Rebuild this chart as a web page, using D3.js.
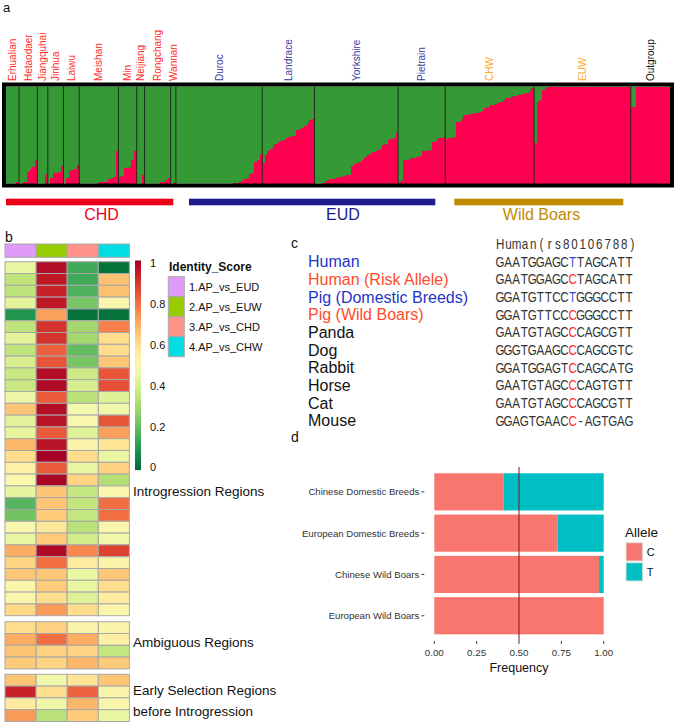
<!DOCTYPE html>
<html><head><meta charset="utf-8">
<script src="https://cdn.jsdelivr.net/npm/d3@7"></script>
<style>body{margin:0;background:#fff}svg{display:block}text{font-family:Arial,"Liberation Sans",sans-serif}</style>
</head><body><svg id="c" width="675" height="724"></svg>
<script>
// ================= DATA =================
// Panel a : structure plot (share of the red ancestry per individual)
const breeds = ["Erhualian","Hetaodaer","Jiangquhai","Jinhua","Laiwu","Meishan","Min","Neijiang","Rongchang","Wannan","Duroc","Landrace","Yorkshire","Pietrain","CHW","EUW","Outgroup"];
const breedType = ["CHD","CHD","CHD","CHD","CHD","CHD","CHD","CHD","CHD","CHD","EUD","EUD","EUD","EUD","WB","WB","OUT"];
const erhualian = [0,0,0,0,0.02];
const hetaodaer = [0,0.01,0.02,0.12,0.15,0.17,0.24];
const jiangquhai = [0,0,0,0.1];
const jinhua = [0,0.06,0.11,0.11,0.12,0.18];
const laiwu = [0,0.06,0.13,0.14,0.15,0.19];
const meishan = [0,0,0,0,0,0,0,0.01,0.02,0.02,0.02,0.05,0.06,0.07,0.34];
const minPig = [0.07,0.08,0.16,0.16,0.17,0.24,0.33];
const neijiang = [0,0,0.09];
const rongchang = [0,0,0,0,0,0,0.02,0.02,0.04,0.06];
const wannan = [0,0.01];
const duroc = [0,0,0,0,0,0,0,0,0,0,0,0,0,0,0,0,0,0,0,0,0,0,0.01,0.01,0.02,0.03,0.05,0.06,0.1,0.11,0.22,0.24,0.3];
const landrace = [0.21,0.29,0.33,0.36,0.4,0.41,0.43,0.44,0.45,0.47,0.48,0.49,0.49,0.55,0.56,0.57,0.59,0.62,0.65,0.66];
const yorkshire = [0,0,0,0.01,0.03,0.04,0.05,0.05,0.06,0.07,0.07,0.08,0.09,0.09,0.18,0.2,0.21,0.22,0.24,0.27,0.29,0.3,0.32,0.33,0.35,0.36,0.4,0.41,0.45,0.46,0.47,0.52];
const pietrain = [0.02,0.04,0.24,0.24,0.25,0.26,0.26,0.27,0.28,0.33,0.33,0.34,0.35,0.43,0.44,0.47,0.47,0.48];
const chw = [0.46,0.47,0.47,0.48,0.63,0.63,0.66,0.71,0.71,0.72,0.72,0.73,0.73,0.74,0.75,0.78,0.79,0.81,0.81,0.82,0.83,0.84,0.86,0.88,0.88,0.89,0.9,0.9,0.91,0.92,0.92,0.93,0.95,0.98];
const euw = [0.42,0.84,0.86,0.96,0.98,1,1,1,1,1,1,1,1,1,1,1,1,1,1,1,1,1,1,1,1,1,1,1,1,1,1,1,1,1,1,1,1];
const outgroup = [0.79,0.79,1,1,1,1,1,1,1,1,1,1,1,1,1];
const redShare = [erhualian,hetaodaer,jiangquhai,jinhua,laiwu,meishan,minPig,neijiang,rongchang,wannan,duroc,landrace,yorkshire,pietrain,chw,euw,outgroup];
const superGroups = ["CHD","EUD","Wild Boars"];

// Panel b : identity score heatmap
const comparisons = ["1.AP_vs_EUD","2.AP_vs_EUW","3.AP_vs_CHD","4.AP_vs_CHW"];
const introgression = [
 [0.45,0.97,0.15,0.02],[0.35,0.95,0.15,0.66],[0.35,0.93,0.17,0.66],[0.43,0.95,0.23,0.5],
 [0.1,0.72,0.02,0.02],[0.35,0.9,0.3,0.77],[0.43,0.9,0.3,0.6],[0.35,0.82,0.2,0.6],
 [0.4,0.84,0.23,0.65],[0.37,0.97,0.38,0.84],[0.37,0.98,0.4,0.85],[0.46,0.83,0.34,0.42],
 [0.65,0.97,0.48,0.46],[0.43,0.96,0.5,0.84],[0.44,0.83,0.42,0.72],[0.68,0.96,0.52,0.58],
 [0.6,1.0,0.6,0.45],[0.54,0.83,0.45,0.63],[0.5,0.99,0.62,0.33],[0.44,0.65,0.36,0.5],
 [0.18,0.65,0.36,0.8],[0.22,0.64,0.36,0.8],[0.5,0.57,0.34,0.52],[0.45,0.64,0.39,0.47],
 [0.7,0.98,0.76,0.87],[0.62,0.8,0.56,0.52],[0.65,0.65,0.45,0.65],[0.52,0.64,0.45,0.6],
 [0.51,0.6,0.42,0.56],[0.61,0.73,0.6,0.52]
];
const ambiguous = [[0.6,0.63,0.52,0.52],[0.7,0.8,0.7,0.55],[0.65,0.63,0.62,0.36],[0.64,0.62,0.68,0.64]];
const earlySelection = [[0.65,0.47,0.58,0.65],[0.93,0.6,0.82,0.52],[0.56,0.46,0.68,0.52],[0.73,0.34,0.64,0.45]];
const scoreTicks = [0,0.2,0.4,0.6,0.8,1];

// Panel c : alignment
const seqTitle = "Human(rs80106788)";
const species = ["Human","Human (Risk Allele)","Pig (Domestic Breeds)","Pig (Wild Boars)","Panda","Dog","Rabbit","Horse","Cat","Mouse"];
const speciesKind = ["ref","risk","ref","risk","other","other","other","other","other","other"];
const sequences = ["GAATGGAGCTTAGCATT","GAATGGAGCCTAGCATT","GGATGTTCCTGGGCCTT","GGATGTTCCCGGGCCTT","GAATGTAGCCCAGCGTT","GGGTGAAGCCCAGCGTC","GGATGGAGTCCAGCATG","GAATGTAGCCCAGTGTT","GAATGTAGCCCAGCGTT","GGAGTGAACC-AGTGAG"];
const snpIndex = 9;

// Panel d : allele frequency
const populations = ["Chinese Domestic Breeds","European Domestic Breeds","Chinese Wild Boars","European Wild Boars"];
const freqC = [0.41,0.728,0.972,1.0];
const freqT = [0.59,0.272,0.028,0.0];
const alleles = ["C","T"];
const freqTicks = [0,0.25,0.5,0.75,1];

// ================= DRAW =================
const svg = d3.select("#c");
const heat = v => d3.interpolateRdYlGn(1 - v);

// panel letters
[["a",3,12,13],["b",5,242,14],["c",291,247.5,14],["d",291,441.5,14]].forEach(([t,x,y,fs]) =>
  svg.append("text").attr("x",x).attr("y",y).attr("font-size",fs).attr("fill","#111").text(t));

// ---------- Panel a ----------
const indiv = [];
const starts = [];
redShare.forEach((arr,g) => { starts.push(indiv.length); arr.forEach(v => indiv.push({g, v})); });
starts.push(indiv.length);
const xA = d3.scaleBand().domain(d3.range(indiv.length)).range([6,670]);
const yA = d3.scaleLinear().domain([0,1]).range([183.5,86.5]);
const gA = svg.append("g");
gA.append("rect").attr("x",6).attr("y",yA(1)).attr("width",664).attr("height",yA(0)-yA(1)).attr("fill","#359a35");
gA.selectAll("rect.r").data(indiv).join("rect").attr("class","r")
  .attr("x",(d,i)=>xA(i)).attr("width",xA.bandwidth()+0.35)
  .attr("y",d=>yA(d.v)).attr("height",d=>yA(0)-yA(d.v))
  .attr("fill","#ff0050").attr("shape-rendering","crispEdges");
gA.selectAll("line.sep").data(starts.slice(1,-1)).join("line").attr("class","sep")
  .attr("x1",d=>xA(d)).attr("x2",d=>xA(d)).attr("y1",yA(1)).attr("y2",yA(0))
  .attr("stroke","#1d2f1d").attr("stroke-width",1);
gA.append("rect").attr("x",4).attr("y",84.5).attr("width",668).attr("height",101)
  .attr("fill","none").attr("stroke","#000").attr("stroke-width",4);
const typeColor = {CHD:"#ff2a2a",EUD:"#3a3a9e",WB:"#ffa726",OUT:"#111"};
gA.selectAll("text.br").data(breeds).join("text").attr("class","br")
  .attr("transform",(d,i)=>`translate(${(xA(starts[i])+xA(starts[i+1]-1)+xA.bandwidth())/2},81) rotate(-90)`)
  .attr("text-anchor","start").attr("dy","0.35em").attr("font-size",10)
  .attr("fill",(d,i)=>typeColor[breedType[i]]).text(d=>d);
// super-group bars
const superColor = ["#ee0018","#1c1c8c","#c08a00"];
const superBar = [[6,173.3],[189,435.3],[454.3,623.3]];
const superLabelX = [101.5,343,541.5];
superGroups.forEach((s,i)=>{
  gA.append("rect").attr("x",superBar[i][0]).attr("y",198.7).attr("width",superBar[i][1]-superBar[i][0]).attr("height",6.6).attr("fill",superColor[i]);
  gA.append("text").attr("x",superLabelX[i]).attr("y",220.3).attr("text-anchor","middle").attr("font-size",16).attr("fill",superColor[i]).text(s);
});

// ---------- Panel b ----------
const gB = svg.append("g");
const hx = d3.scaleBand().domain(comparisons).range([5,129.4]);
const headColor = ["#e09af8","#99cc00","#ff9289","#00dee4"];
gB.selectAll("rect.hd").data(comparisons).join("rect").attr("class","hd")
  .attr("x",d=>hx(d)).attr("y",244).attr("width",hx.bandwidth()).attr("height",13.3)
  .attr("fill",(d,i)=>headColor[i]).attr("stroke","#a8a8a8").attr("stroke-width",1);
const blocks = [[introgression,261.7],[ambiguous,621.7],[earlySelection,674.3]];
blocks.forEach(([rows,y0])=>{
  const hy = d3.scaleBand().domain(d3.range(rows.length)).range([y0, y0 + rows.length*11.8]);
  rows.forEach((r,ri)=>{
    gB.selectAll(null).data(r).join("rect")
      .attr("x",(v,ci)=>hx(comparisons[ci])).attr("y",hy(ri))
      .attr("width",hx.bandwidth()).attr("height",hy.bandwidth())
      .attr("fill",v=>heat(v)).attr("stroke","#a8a8a8").attr("stroke-width",1);
  });
});
[["Introgression Regions",495.5],["Ambiguous Regions",646.7],["Early Selection Regions",695],["before Introgression",716]].forEach(([t,y])=>
  gB.append("text").attr("x",133).attr("y",y).attr("font-size",13.5).attr("fill","#111").text(t));
// colour bar
const ly = d3.scaleLinear().domain([0,1]).range([467.6,263]);
const grad = svg.append("defs").append("linearGradient").attr("id","gr").attr("x1",0).attr("y1",1).attr("x2",0).attr("y2",0);
d3.range(0,1.0001,0.05).forEach(t=>grad.append("stop").attr("offset",t).attr("stop-color",heat(t)));
gB.append("rect").attr("x",135).attr("y",ly(1)-2.5).attr("width",6).attr("height",ly(0)-ly(1)+5).attr("fill","url(#gr)");
gB.selectAll("text.tk").data(scoreTicks).join("text").attr("class","tk")
  .attr("x",150).attr("y",d=>ly(d)).attr("dy","0.35em").attr("font-size",11).attr("fill","#111").text(d=>d);
gB.append("text").attr("x",169).attr("y",271).attr("font-size",12).attr("font-weight","bold").attr("fill","#111").text("Identity_Score");
gB.selectAll("rect.lg").data(comparisons).join("rect").attr("class","lg")
  .attr("x",168.3).attr("y",(d,i)=>276.7+i*20).attr("width",16).attr("height",20)
  .attr("fill",(d,i)=>headColor[i]).attr("stroke","#aaa").attr("stroke-width",1);
gB.selectAll("text.lg").data(comparisons).join("text").attr("class","lg")
  .attr("x",189).attr("y",(d,i)=>286.7+i*20).attr("dy","0.36em").attr("font-size",11).attr("fill","#111").text(d=>d);

// ---------- Panel c ----------
const gC = svg.append("g");
const rowY = d3.scaleLinear().domain([0,9]).range([261.7,420.7]);
const kindColor = {ref:"#1f35c8",risk:"#ff4b2b",other:"#111"};
gC.selectAll("text.sp").data(species).join("text").attr("class","sp")
  .attr("x",308).attr("y",(d,i)=>rowY(i)+5.7).attr("font-size",16)
  .attr("fill",(d,i)=>kindColor[speciesKind[i]]).text(d=>d);
const sx = 0.8;
const gSeq = gC.append("g").attr("transform",`scale(${sx},1)`);
const charX = d3.scaleLinear().domain([0,1]).range([496+4.03, 496+4.03+8.06]);
sequences.forEach((s,i)=>{
  gSeq.selectAll(null).data(s.split("")).join("text")
    .attr("x",(c,j)=>charX(j)/sx).attr("y",rowY(i)+4.9).attr("text-anchor","middle")
    .attr("font-family",'"Liberation Serif","DejaVu Serif",serif').attr("font-size",14.5)
    .attr("fill",(c,j)=> j===snpIndex ? (c==="T" ? "#3a4fd8" : "#ff2a2a") : "#333").text(c=>c);
});
const titleX = d3.scaleLinear().domain([0,1]).range([496+4.1, 496+4.1+8.27]);
gSeq.selectAll("text.tt").data(seqTitle.split("")).join("text").attr("class","tt")
  .attr("x",(c,j)=>titleX(j)/sx).attr("y",248.8).attr("text-anchor","middle")
  .attr("font-family",'"Liberation Serif","DejaVu Serif",serif').attr("font-size",14.5)
  .attr("fill","#333").text(c=>c);

// ---------- Panel d ----------
const gD = svg.append("g");
const xD = d3.scaleLinear().domain([0,1]).range([434.3,603.7]);
const yD = d3.scaleBand().domain(populations).range([471.2,636.4]).paddingInner(0.1).paddingOuter(0.05);
const alleleColor = ["#f8766d","#00bfc4"];
gD.selectAll("rect.c").data(populations).join("rect").attr("class","c")
  .attr("x",xD(0)).attr("y",d=>yD(d)).attr("width",(d,i)=>xD(freqC[i])-xD(0)).attr("height",yD.bandwidth()).attr("fill",alleleColor[0]);
gD.selectAll("rect.t").data(populations).join("rect").attr("class","t")
  .attr("x",(d,i)=>xD(freqC[i])).attr("y",d=>yD(d)).attr("width",(d,i)=>xD(freqC[i]+freqT[i])-xD(freqC[i])).attr("height",yD.bandwidth()).attr("fill",alleleColor[1]);
gD.append("line").attr("x1",xD(0.5)).attr("x2",xD(0.5)).attr("y1",467).attr("y2",641).attr("stroke","#8b1414").attr("stroke-width",1);
gD.selectAll("text.pop").data(populations).join("text").attr("class","pop")
  .attr("x",419.3).attr("y",d=>yD(d)+yD.bandwidth()/2).attr("dy","0.35em").attr("text-anchor","end")
  .attr("font-size",9.6).attr("fill","#333").text(d=>d);
gD.selectAll("line.yt").data(populations).join("line").attr("class","yt")
  .attr("x1",421.5).attr("x2",424.3).attr("y1",d=>yD(d)+yD.bandwidth()/2).attr("y2",d=>yD(d)+yD.bandwidth()/2)
  .attr("stroke","#333");
gD.selectAll("line.xt").data(freqTicks).join("line").attr("class","xt")
  .attr("x1",d=>xD(d)).attr("x2",d=>xD(d)).attr("y1",641).attr("y2",643.8).attr("stroke","#333");
gD.selectAll("text.xt").data(freqTicks).join("text").attr("class","xt")
  .attr("x",d=>xD(d)).attr("y",655.5).attr("text-anchor","middle").attr("font-size",9.8).attr("fill","#333")
  .text(d=>d.toFixed(2));
gD.append("text").attr("x",xD(0.5)).attr("y",671.5).attr("text-anchor","middle").attr("font-size",12.5).attr("fill","#111").text("Frequency");
gD.append("text").attr("x",625).attr("y",537.3).attr("font-size",13.5).attr("fill","#111").text("Allele");
alleles.forEach((a,i)=>{
  gD.append("rect").attr("x",626).attr("y",542.7+i*20).attr("width",16.7).attr("height",18.3)
    .attr("fill",alleleColor[i]).attr("stroke","#e0e0e0").attr("stroke-width",1);
  gD.append("text").attr("x",646.7).attr("y",552+i*20).attr("dy","0.36em").attr("font-size",11).attr("fill","#111").text(a);
});
</script></body></html>
